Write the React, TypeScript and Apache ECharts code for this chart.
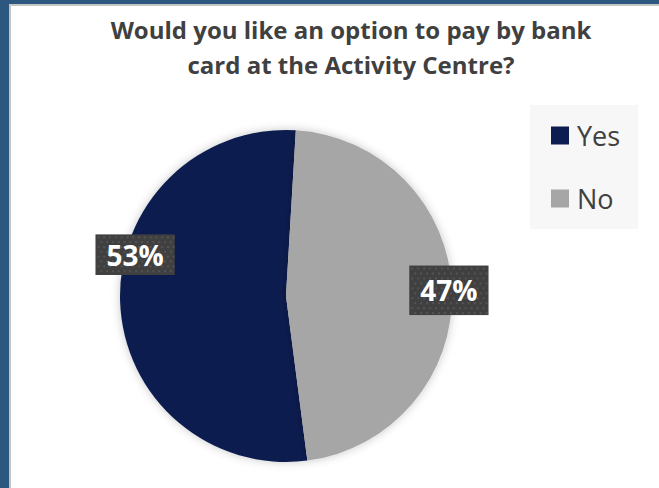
import React, { useEffect, useRef } from 'react';
import * as echarts from 'echarts';

const categories = ['Yes', 'No'];
const values = [53, 47];
const sliceColors = ['#0d1d4f', '#a6a6a6'];
const titleLines = ['Would you like an option to pay by bank', 'card at the Activity Centre?'];

function dottedBox(w: number, h: number): string {
  const c = document.createElement('canvas');
  c.width = w;
  c.height = h;
  const ctx = c.getContext('2d');
  if (!ctx) return '';
  ctx.fillStyle = '#404040';
  ctx.fillRect(0, 0, w, h);
  ctx.fillStyle = '#545454';
  for (let y = 2, row = 0; y < h; y += 5, row++) {
    for (let x = (row % 2) * 3 + 2; x < w; x += 6) {
      ctx.fillRect(x, y, 2, 2);
    }
  }
  return c.toDataURL();
}

export default function App() {
  const ref = useRef<HTMLDivElement>(null);
  useEffect(() => {
    const chart = echarts.init(ref.current as HTMLDivElement, null, { renderer: 'svg' });
    const center = [286, 296];
    const startAngle = -82.6;
    const pieData = categories.map((name, i) => ({
      name,
      value: values[i],
      itemStyle: { color: sliceColors[i] },
    }));
    const labelPads = [
      [7, 11, 7, 11],
      [11, 11, 11, 11],
    ];
    const bgs = [dottedBox(82, 42), dottedBox(80, 50)];
    const overlayData = categories.map((name, i) => ({
      name,
      value: values[i],
      itemStyle: { color: 'rgba(0,0,0,0)' },
      label: {
        padding: labelPads[i],
        backgroundColor: bgs[i] ? { image: bgs[i] } : '#404040',
      },
    }));
    const frameBlue = '#2c5880';
    const frameGray = '#c4c4c4';
    chart.setOption({
      animation: false,
      backgroundColor: '#ffffff',
      title: {
        text: titleLines.join('\n'),
        left: 351,
        top: 12,
        textAlign: 'center',
        padding: 0,
        textStyle: {
          fontFamily: 'Open Sans',
          fontWeight: 'bold',
          fontSize: 24,
          lineHeight: 35,
          color: '#404040',
        },
      },
      legend: {
        orient: 'vertical',
        left: 530,
        top: 105,
        padding: [17, 18, 17, 21],
        backgroundColor: '#f7f7f7',
        itemWidth: 18,
        itemHeight: 18,
        itemGap: 36,
        icon: 'rect',
        data: categories,
        selectedMode: false,
        textStyle: { fontFamily: 'Open Sans', fontSize: 27, color: '#404040', padding: [0, 0, 0, 3] },
      },
      graphic: [
        { type: 'rect', shape: { x: 0, y: 0, width: 9, height: 488 }, style: { fill: frameBlue } },
        { type: 'rect', shape: { x: 0, y: 0, width: 659, height: 4 }, style: { fill: frameBlue } },
        { type: 'rect', shape: { x: 9, y: 4, width: 2, height: 484 }, style: { fill: frameGray } },
        { type: 'rect', shape: { x: 9, y: 4, width: 650, height: 2 }, style: { fill: frameGray } },
      ],
      series: [
        {
          type: 'pie',
          center,
          radius: [0, 166],
          startAngle,
          clockwise: true,
          data: pieData,
          label: { show: false },
          labelLine: { show: false },
          itemStyle: { shadowBlur: 10, shadowColor: 'rgba(0,0,0,0.22)' },
          emphasis: { disabled: true },
        },
        {
          type: 'pie',
          center,
          radius: [0, 320],
          startAngle,
          clockwise: true,
          silent: true,
          data: overlayData,
          labelLine: { show: false },
          emphasis: { disabled: true },
          label: {
            show: true,
            position: 'inside',
            formatter: (p: any) => Math.round(p.percent) + '%',
            color: '#ffffff',
            fontFamily: 'Open Sans',
            fontWeight: 'bold',
            fontSize: 28,
            lineHeight: 28,
            shadowColor: 'rgba(0,0,0,0.45)',
            shadowBlur: 9,
            shadowOffsetX: 3,
            shadowOffsetY: 3,
          },
          labelLayout: (p: any) => (p.dataIndex === 0 ? { dx: 12, dy: -47 } : {}),
        },
      ],
    });
    return () => chart.dispose();
  }, []);
  return (
    <div
      ref={ref}
      style={{ position: 'fixed', left: 0, top: 0, width: 659, height: 488 }}
    />
  );
}
